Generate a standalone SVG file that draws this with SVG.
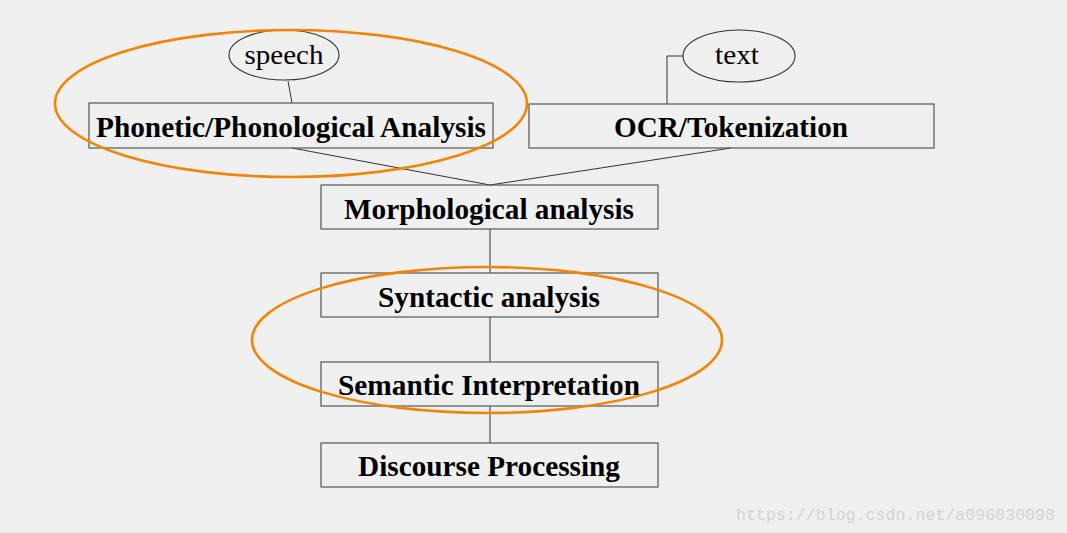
<svg xmlns="http://www.w3.org/2000/svg" width="1067" height="533" viewBox="0 0 1067 533">
<style>
.box{fill:none;stroke:#555;stroke-width:1.2}
.lbl{font-family:"Liberation Serif","Times New Roman",serif;font-weight:bold;font-size:29px;fill:#000;text-anchor:middle}
.oval{fill:none;stroke:#333;stroke-width:1.1}
.olbl{font-family:"Liberation Serif","Times New Roman",serif;font-size:27px;fill:#000;text-anchor:middle}
.conn{fill:none;stroke:#333;stroke-width:1}
.hl{fill:none;stroke:#f0850a;stroke-width:2.6}
</style>
<rect width="1067" height="533" fill="#f0f0f0"/>
<g id="connectors">
<line class="conn" x1="288" y1="81" x2="292" y2="103"/>
<polyline class="conn" points="683,56 667,56 667,104"/>
<line class="conn" x1="292" y1="148" x2="490" y2="185"/>
<line class="conn" x1="731" y1="148" x2="490" y2="185"/>
<line class="conn" x1="490" y1="229" x2="490" y2="273"/>
<line class="conn" x1="490" y1="317" x2="490" y2="362"/>
<line class="conn" x1="490" y1="406" x2="490" y2="443"/>
</g>
<g id="speech">
<ellipse class="oval" cx="284" cy="55" rx="55" ry="25"/>
<text class="olbl" x="284" y="64" textLength="79" lengthAdjust="spacingAndGlyphs">speech</text>
</g>
<g id="text">
<ellipse class="oval" cx="739" cy="56" rx="56" ry="26"/>
<text class="olbl" x="737" y="64" textLength="44" lengthAdjust="spacingAndGlyphs">text</text>
</g>
<g id="phonetic">
<rect class="box" x="89" y="103" width="404" height="45"/>
<text class="lbl" x="291" y="137" textLength="390" lengthAdjust="spacingAndGlyphs">Phonetic/Phonological Analysis</text>
</g>
<g id="ocr">
<rect class="box" x="529" y="104" width="405" height="44"/>
<text class="lbl" x="731" y="137" textLength="234" lengthAdjust="spacingAndGlyphs">OCR/Tokenization</text>
</g>
<g id="morph">
<rect class="box" x="321" y="185" width="337" height="44"/>
<text class="lbl" x="489" y="219" textLength="290" lengthAdjust="spacingAndGlyphs">Morphological analysis</text>
</g>
<g id="syntactic">
<rect class="box" x="321" y="273" width="337" height="44"/>
<text class="lbl" x="489" y="307" textLength="222" lengthAdjust="spacingAndGlyphs">Syntactic analysis</text>
</g>
<g id="semantic">
<rect class="box" x="321" y="362" width="337" height="44"/>
<text class="lbl" x="489" y="395" textLength="302" lengthAdjust="spacingAndGlyphs">Semantic Interpretation</text>
</g>
<g id="discourse">
<rect class="box" x="321" y="443" width="337" height="44"/>
<text class="lbl" x="489" y="476" textLength="262" lengthAdjust="spacingAndGlyphs">Discourse Processing</text>
</g>
<g id="highlights">
<ellipse class="hl" cx="291" cy="103.5" rx="236" ry="73.5"/>
<ellipse class="hl" cx="487" cy="340" rx="235" ry="73"/>
</g>
<text x="736" y="520" font-family="'Liberation Mono','DejaVu Sans Mono',monospace" font-size="17" fill="#d4d4d4" textLength="319" lengthAdjust="spacingAndGlyphs">https://blog.csdn.net/a096030098</text>
</svg>
